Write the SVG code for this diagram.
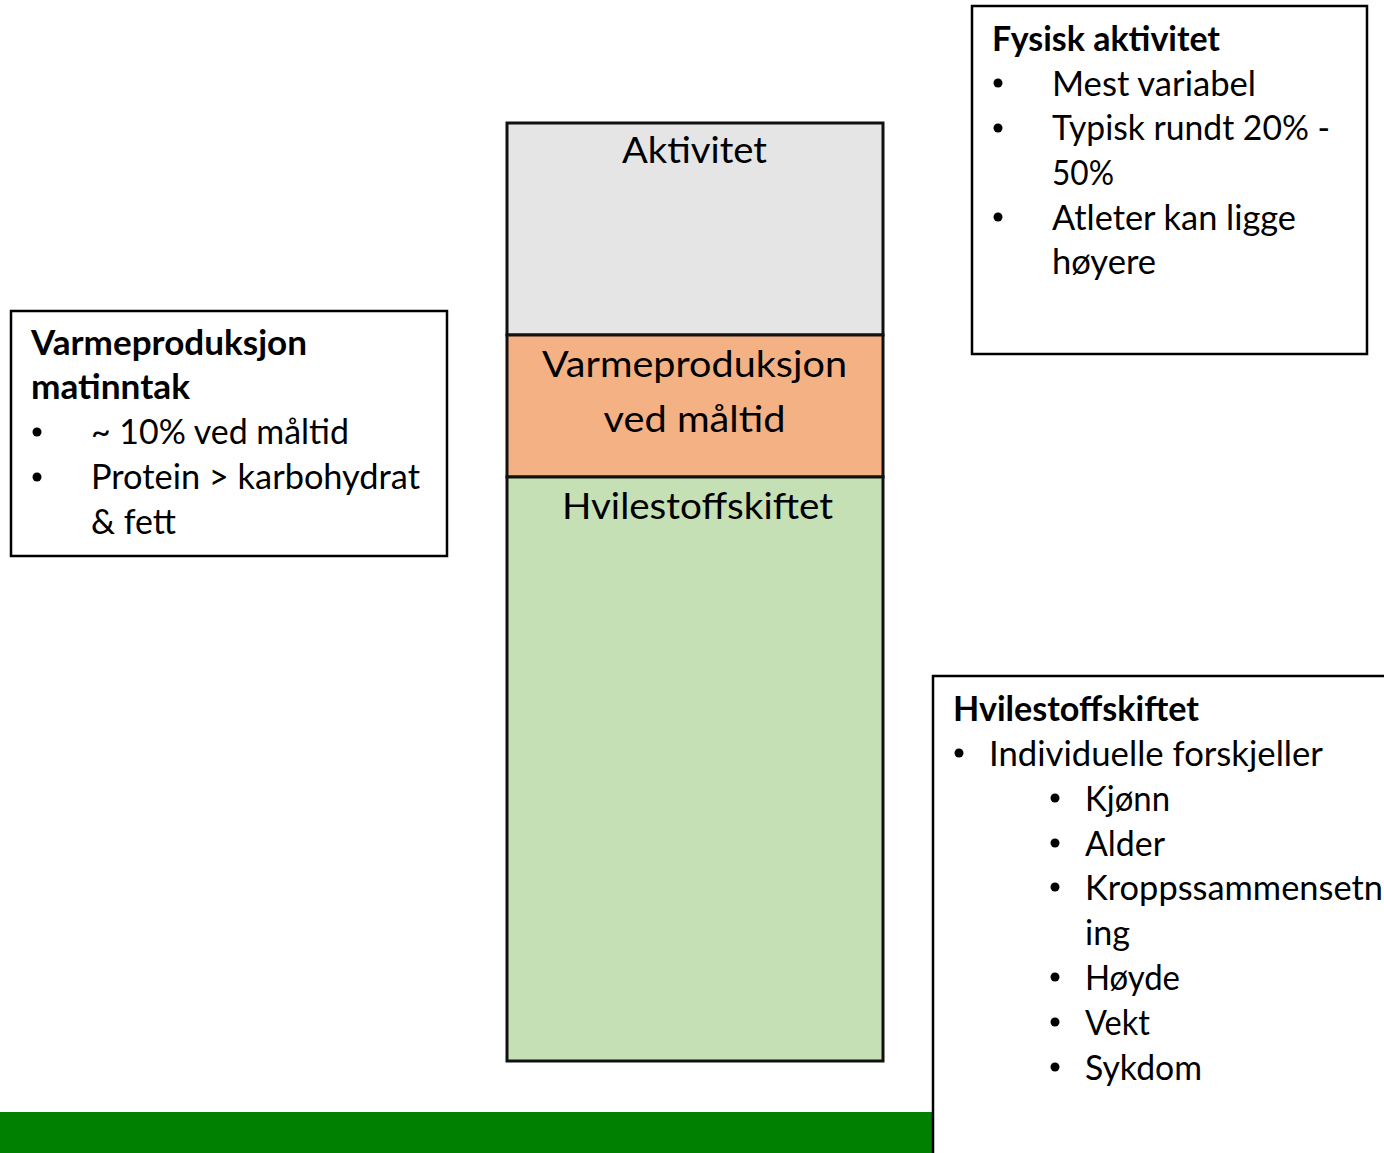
<svg xmlns="http://www.w3.org/2000/svg" width="1384" height="1153" viewBox="0 0 1384 1153">
<style>
.box{fill:#fff;stroke:#000;stroke-width:2.5}
.seg{stroke:#111;stroke-width:3}
text{font-family:Lato,"Noto Sans","Liberation Sans",sans-serif;fill:#000}
.t{font-size:34px}
.b{font-size:34px;font-weight:bold}
.c{font-size:37px;text-anchor:middle}
.dot{fill:#000}
</style>
<rect x="0" y="0" width="1384" height="1153" fill="#fff"/>
<rect id="footer-bar" x="0" y="1112" width="933" height="41" fill="#008000"/>
<g id="column">
  <g id="seg-aktivitet">
    <rect class="seg" x="507" y="123" width="376" height="212" fill="#E5E5E5"/>
    <text class="c" x="694.5" y="163" textLength="145" lengthAdjust="spacingAndGlyphs">Aktivitet</text>
  </g>
  <g id="seg-varme">
    <rect class="seg" x="507" y="335" width="376" height="142" fill="#F4B183"/>
    <text class="c" x="694.5" y="377" textLength="305" lengthAdjust="spacingAndGlyphs">Varmeproduksjon</text>
    <text class="c" x="694.5" y="432" textLength="182" lengthAdjust="spacingAndGlyphs">ved måltid</text>
  </g>
  <g id="seg-hvile">
    <rect class="seg" x="507" y="477" width="376" height="584" fill="#C5E0B4"/>
    <text class="c" x="697.5" y="519" textLength="271" lengthAdjust="spacingAndGlyphs">Hvilestoffskiftet</text>
  </g>
</g>
<g id="box-varme">
  <rect class="box" x="11" y="311" width="436" height="245"/>
  <text class="b" x="31" y="355" textLength="276" lengthAdjust="spacingAndGlyphs">Varmeproduksjon</text>
  <text class="b" x="31" y="399" textLength="159" lengthAdjust="spacingAndGlyphs">matinntak</text>
  <circle class="dot" cx="37" cy="432" r="4.5"/>
  <text class="t" x="91" y="444" textLength="258" lengthAdjust="spacingAndGlyphs">~ 10% ved måltid</text>
  <circle class="dot" cx="37" cy="477" r="4.5"/>
  <text class="t" x="91" y="489" textLength="329" lengthAdjust="spacingAndGlyphs">Protein &gt; karbohydrat</text>
  <text class="t" x="91" y="534" textLength="85" lengthAdjust="spacingAndGlyphs">&amp; fett</text>
</g>
<g id="box-fysisk">
  <rect class="box" x="972" y="6" width="395" height="348"/>
  <text class="b" x="992" y="51" textLength="228" lengthAdjust="spacingAndGlyphs">Fysisk aktivitet</text>
  <circle class="dot" cx="998" cy="83" r="4.5"/>
  <text class="t" x="1052" y="96" textLength="204" lengthAdjust="spacingAndGlyphs">Mest variabel</text>
  <circle class="dot" cx="998" cy="128" r="4.5"/>
  <text class="t" x="1052" y="140" textLength="278" lengthAdjust="spacingAndGlyphs">Typisk rundt 20% -</text>
  <text class="t" x="1052" y="185" textLength="62" lengthAdjust="spacingAndGlyphs">50%</text>
  <circle class="dot" cx="998" cy="217" r="4.5"/>
  <text class="t" x="1052" y="230" textLength="244" lengthAdjust="spacingAndGlyphs">Atleter kan ligge</text>
  <text class="t" x="1052" y="274" textLength="104" lengthAdjust="spacingAndGlyphs">høyere</text>
</g>
<g id="box-hvile">
  <rect class="box" x="933" y="676" width="500" height="520"/>
  <text class="b" x="953" y="721" textLength="246" lengthAdjust="spacingAndGlyphs">Hvilestoffskiftet</text>
  <circle class="dot" cx="959" cy="753" r="4.5"/>
  <text class="t" x="989" y="766" textLength="334" lengthAdjust="spacingAndGlyphs">Individuelle forskjeller</text>
  <circle class="dot" cx="1055" cy="798" r="4.5"/>
  <text class="t" x="1085" y="811" textLength="85" lengthAdjust="spacingAndGlyphs">Kjønn</text>
  <circle class="dot" cx="1055" cy="843" r="4.5"/>
  <text class="t" x="1085" y="856" textLength="80" lengthAdjust="spacingAndGlyphs">Alder</text>
  <circle class="dot" cx="1055" cy="887" r="4.5"/>
  <text class="t" x="1085" y="900" textLength="298" lengthAdjust="spacingAndGlyphs">Kroppssammensetn</text>
  <text class="t" x="1085" y="945" textLength="45" lengthAdjust="spacingAndGlyphs">ing</text>
  <circle class="dot" cx="1055" cy="977" r="4.5"/>
  <text class="t" x="1085" y="990" textLength="95" lengthAdjust="spacingAndGlyphs">Høyde</text>
  <circle class="dot" cx="1055" cy="1022" r="4.5"/>
  <text class="t" x="1085" y="1035" textLength="65" lengthAdjust="spacingAndGlyphs">Vekt</text>
  <circle class="dot" cx="1055" cy="1067" r="4.5"/>
  <text class="t" x="1085" y="1080" textLength="117" lengthAdjust="spacingAndGlyphs">Sykdom</text>
</g>
<g id="connectors"/>
</svg>
